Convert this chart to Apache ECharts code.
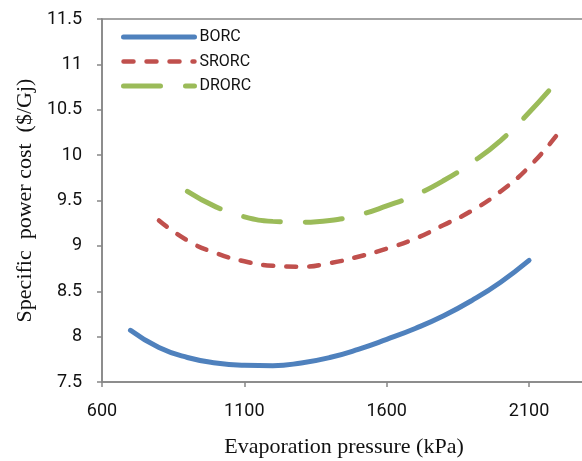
<!DOCTYPE html>
<html>
<head>
<meta charset="utf-8">
<title>Specific power cost</title>
<script src="https://cdn.jsdelivr.net/npm/echarts@6.0.0/dist/echarts.min.js"></script>
<style>
  html, body { margin: 0; padding: 0; background: #fff; }
  #myChart { width: 582px; height: 461px; }
</style>
</head>
<body>
<div id="myChart"></div>
<script>
// 数据
var borcX = [700, 800, 900, 1000, 1100, 1200, 1300, 1400, 1500, 1600, 1700, 1800, 1900, 2000, 2100];
var borcY = [8.07, 7.88, 7.77, 7.71, 7.685, 7.68, 7.71, 7.77, 7.86, 7.97, 8.09, 8.23, 8.40, 8.60, 8.84];

var srorcX = [800, 900, 1000, 1100, 1200, 1300, 1400, 1500, 1600, 1700, 1800, 1900, 2000, 2100, 2200];
var srorcY = [9.28, 9.06, 8.92, 8.83, 8.78, 8.77, 8.81, 8.88, 8.97, 9.08, 9.23, 9.39, 9.60, 9.87, 10.23];

var drorcX = [900, 1000, 1100, 1200, 1300, 1400, 1500, 1600, 1700, 1800, 1900, 2000, 2100, 2200];
var drorcY = [9.60, 9.43, 9.32, 9.27, 9.26, 9.28, 9.34, 9.44, 9.56, 9.72, 9.92, 10.16, 10.47, 10.82];

var seriesNames = ['BORC', 'SRORC', 'DRORC'];
var xTicks = [600, 1100, 1600, 2100];
var yTicks = [7.5, 8, 8.5, 9, 9.5, 10, 10.5, 11, 11.5];

function pairs(xs, ys) {
    return xs.map(function (x, i) { return [x, ys[i]]; });
}

var axisColor = '#868686';
var tickFont = 'Roboto, "Liberation Sans", sans-serif';
var titleFont = '"Liberation Serif", "DejaVu Serif", serif';

var myChart = echarts.init(document.getElementById('myChart'));
myChart.setOption({
    animation: false,
    grid: {
        left: 102,
        top: 19,
        right: -4,
        bottom: 79,
        containLabel: false,
        outerBoundsMode: 'none',
        show: true,
        borderColor: axisColor,
        borderWidth: 1.5
    },
    legend: {
        orient: 'vertical',
        left: 121,
        top: 29,
        padding: 0,
        itemWidth: 71,
        itemHeight: 14,
        itemGap: 8.5,
        data: seriesNames,
        itemStyle: { opacity: 0 },
        lineStyle: { width: 'inherit' },
        textStyle: { fontFamily: tickFont, fontSize: 16, color: '#111' }
    },
    xAxis: {
        type: 'value',
        min: xTicks[0],
        max: 2300,
        interval: 500,
        name: 'Evaporation pressure (kPa)',
        nameLocation: 'middle',
        nameGap: 54,
        nameTextStyle: { fontFamily: titleFont, fontSize: 22, color: '#111' },
        axisLine: { lineStyle: { color: axisColor, width: 1.5 } },
        axisTick: { show: true, inside: false, length: 5, lineStyle: { color: axisColor, width: 1.5 } },
        axisLabel: {
            showMaxLabel: false,
            margin: 20,
            fontFamily: tickFont,
            fontSize: 18,
            color: '#111',
            formatter: function (v) { return String(v); }
        },
        splitLine: { show: false }
    },
    yAxis: {
        type: 'value',
        min: yTicks[0],
        max: yTicks[yTicks.length - 1],
        interval: 0.5,
        name: 'Specific  power cost  ($/Gj)',
        nameLocation: 'middle',
        nameGap: 64,
        nameTextStyle: { fontFamily: titleFont, fontSize: 22, color: '#111' },
        axisLine: { show: true, lineStyle: { color: axisColor, width: 1.5 } },
        axisTick: { show: true, inside: false, length: 5, lineStyle: { color: axisColor, width: 1.5 } },
        axisLabel: {
            margin: 20,
            fontFamily: tickFont,
            fontSize: 18,
            color: '#111'
        },
        splitLine: { show: false }
    },
    series: [
        {
            name: seriesNames[0],
            type: 'line',
            smooth: true,
            symbol: 'none',
            data: pairs(borcX, borcY),
            itemStyle: { color: '#4F81BD' },
            lineStyle: { color: '#4F81BD', width: 5, cap: 'round' }
        },
        {
            name: seriesNames[1],
            type: 'line',
            smooth: true,
            symbol: 'none',
            data: pairs(srorcX, srorcY),
            itemStyle: { color: '#C0504D' },
            lineStyle: { color: '#C0504D', width: 4.5, type: [10, 13], cap: 'round' }
        },
        {
            name: seriesNames[2],
            type: 'line',
            smooth: true,
            symbol: 'none',
            data: pairs(drorcX, drorcY),
            itemStyle: { color: '#9BBB59' },
            lineStyle: { color: '#9BBB59', width: 5, type: [37, 25], cap: 'round' }
        }
    ]
});
</script>
</body>
</html>
